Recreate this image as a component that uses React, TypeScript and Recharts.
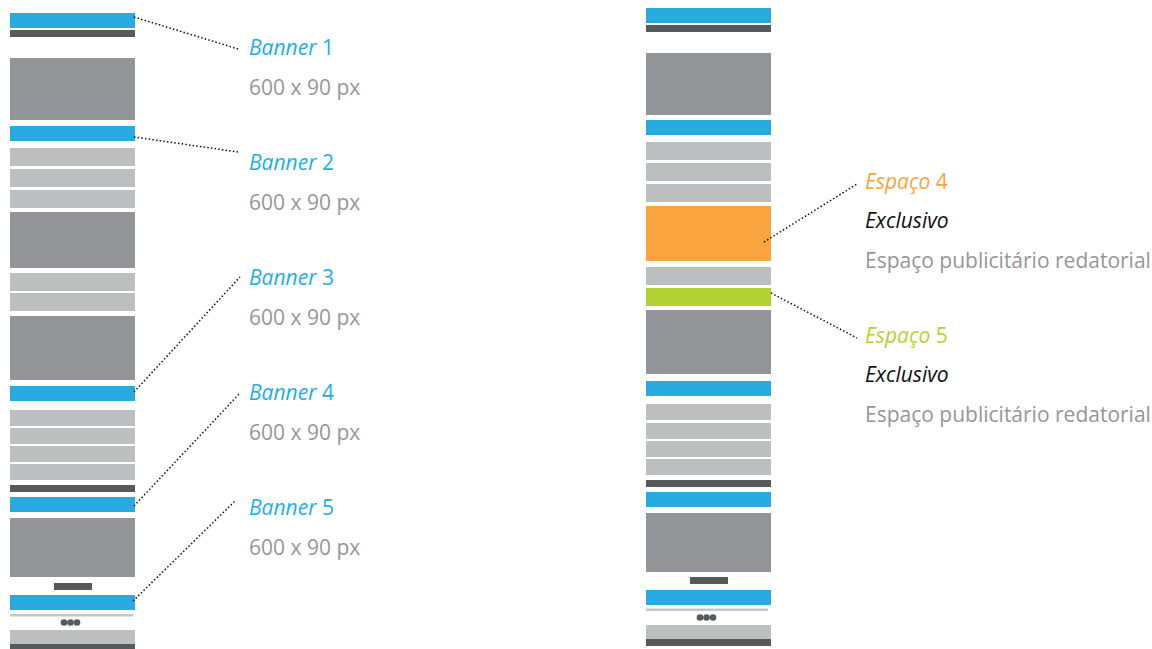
import { ComposedChart, XAxis, YAxis, ReferenceArea, ReferenceLine, Scatter } from 'recharts';

document.body.style.margin = '0';

// page blocks per column: [top, bottom, kind]
const leftBlocks: [number, number, string][] = [
  [13, 28, 'banner'], [30, 37, 'dark'], [58, 120, 'mid'], [126, 141, 'banner'],
  [148, 166, 'light'], [169, 187, 'light'], [190, 208, 'light'], [212, 268, 'mid'],
  [273, 291, 'light'], [293, 311, 'light'], [316, 380, 'mid'], [386, 401, 'banner'],
  [410, 426, 'light'], [428, 444, 'light'], [446, 462, 'light'], [464, 480, 'light'],
  [485, 492, 'dark'], [497, 512, 'banner'], [518, 577, 'mid'], [595, 610, 'banner'],
  [614, 616.5, 'rule'], [630, 644, 'light'], [644, 649, 'dark'],
];
const rightBlocks: [number, number, string][] = [
  [8, 23, 'banner'], [25, 32, 'dark'], [53, 115, 'mid'], [120, 135, 'banner'],
  [142, 160, 'light'], [163, 181, 'light'], [184, 202, 'light'], [206, 261, 'orange'],
  [267, 285, 'light'], [288, 306, 'green'], [310, 374, 'mid'], [381, 396, 'banner'],
  [404, 420, 'light'], [423, 439, 'light'], [441, 457, 'light'], [459, 475, 'light'],
  [480, 487, 'dark'], [492, 507, 'banner'], [513, 572, 'mid'], [590, 605, 'banner'],
  [608.5, 611, 'rule'], [625, 639, 'light'], [639, 646, 'dark'],
];
// small pager bar + "..." dots under each column
const pagers = [
  { x1: 54, x2: 92, y1: 583, y2: 590 },
  { x1: 690, x2: 728, y1: 577, y2: 584 },
];
const moreDots = [
  { x: 64, y: 622.5 }, { x: 70.5, y: 622.5 }, { x: 77, y: 622.5 },
  { x: 700, y: 617.5 }, { x: 706.5, y: 617.5 }, { x: 713, y: 617.5 },
];

const bannerNames = ['Banner', 'Banner', 'Banner', 'Banner', 'Banner'];
const bannerNumbers = ['1', '2', '3', '4', '5'];
const bannerSize = '600 x 90 px';
const bannerY = [47, 162, 277, 392, 507];
const leaders = [
  [{ x: 134, y: 17 }, { x: 238, y: 49 }],
  [{ x: 134, y: 137 }, { x: 238, y: 152 }],
  [{ x: 134, y: 392 }, { x: 240, y: 277 }],
  [{ x: 134, y: 506 }, { x: 240, y: 393 }],
  [{ x: 133, y: 601 }, { x: 235, y: 501 }],
  [{ x: 764, y: 242 }, { x: 857, y: 184 }],
  [{ x: 771, y: 293 }, { x: 857, y: 338 }],
];

const spaceNames = ['Espaço', 'Espaço'];
const spaceNumbers = ['4', '5'];
const spaceKinds = ['orange', 'green'];
const spaceY = [181, 335];
const spaceType = 'Exclusivo';
const spaceDesc = 'Espaço publicitário redatorial';

const colors: Record<string, string> = {
  banner: '#29abe2',
  dark: '#58595b',
  mid: '#939598',
  light: '#bcbec0',
  rule: '#c4c6c8',
  orange: '#f9a43f',
  green: '#b3d335',
};
const textBlue = '#1eaee6';
const gray = '#969696';
const font = '"Open Sans", sans-serif';
const fontSize = 21;

const leftX = [10, 135];
const rightX = [646, 771];
const textLeft = 249;
const textRight = 865;

const bannerLabels = bannerY.map((y, i) => ({ x: textLeft, y, i }));
const spaceLabels = spaceY.map((y, i) => ({ x: textRight, y, i }));

const BannerText = (p: any) => {
  const i = p.payload.i;
  return (
    <g>
      <text x={p.cx} y={p.cy} dominantBaseline="central" fontFamily={font} fontSize={fontSize} fill={textBlue}>
        <tspan fontStyle="italic">{bannerNames[i]}</tspan>
        <tspan> {bannerNumbers[i]}</tspan>
      </text>
      <text x={p.cx} y={p.cy + 40} dominantBaseline="central" fontFamily={font} fontSize={fontSize} fill={gray}>
        {bannerSize}
      </text>
    </g>
  );
};

const SpaceText = (p: any) => {
  const i = p.payload.i;
  return (
    <g>
      <text x={p.cx} y={p.cy} dominantBaseline="central" fontFamily={font} fontSize={fontSize} fill={colors[spaceKinds[i]]}>
        <tspan fontStyle="italic">{spaceNames[i]}</tspan>
        <tspan> {spaceNumbers[i]}</tspan>
      </text>
      <text x={p.cx} y={p.cy + 39} dominantBaseline="central" fontFamily={font} fontSize={fontSize} fontStyle="italic" fill="#111">
        {spaceType}
      </text>
      <text x={p.cx} y={p.cy + 79} dominantBaseline="central" fontFamily={font} fontSize={fontSize} fill={gray}>
        {spaceDesc}
      </text>
    </g>
  );
};

export default function App() {
  return (
    <ComposedChart width={1152} height={649} data={moreDots} margin={{ top: 0, right: 0, bottom: 0, left: 0 }}>
      <XAxis type="number" dataKey="x" domain={[0, 1152]} allowDataOverflow hide />
      <YAxis type="number" dataKey="y" domain={[0, 649]} allowDataOverflow reversed hide />
      {leftBlocks.map(([y1, y2, kind], i) => (
        <ReferenceArea key={'l' + i} x1={leftX[0]} x2={kind === 'rule' ? 133 : leftX[1]} y1={y1} y2={y2}
          fill={colors[kind]} fillOpacity={1} stroke="none" ifOverflow="visible" />
      ))}
      {rightBlocks.map(([y1, y2, kind], i) => (
        <ReferenceArea key={'r' + i} x1={rightX[0]} x2={kind === 'rule' ? 768 : rightX[1]} y1={y1} y2={y2}
          fill={colors[kind]} fillOpacity={1} stroke="none" ifOverflow="visible" />
      ))}
      {pagers.map((p, i) => (
        <ReferenceArea key={'p' + i} {...p} fill={colors.dark} fillOpacity={1} stroke="none" ifOverflow="visible" />
      ))}
      {leaders.map((seg, i) => (
        <ReferenceLine key={'s' + i} segment={seg} stroke="#111" strokeWidth={1.5} strokeDasharray="1.5 2.2" ifOverflow="visible" />
      ))}
      <Scatter data={moreDots} dataKey="y" fill={colors.dark} isAnimationActive={false}
        shape={(p: any) => <circle cx={p.cx} cy={p.cy} r={3.3} fill={colors.dark} />} />
      <Scatter data={bannerLabels} dataKey="y" isAnimationActive={false} shape={BannerText} />
      <Scatter data={spaceLabels} dataKey="y" isAnimationActive={false} shape={SpaceText} />
    </ComposedChart>
  );
}
